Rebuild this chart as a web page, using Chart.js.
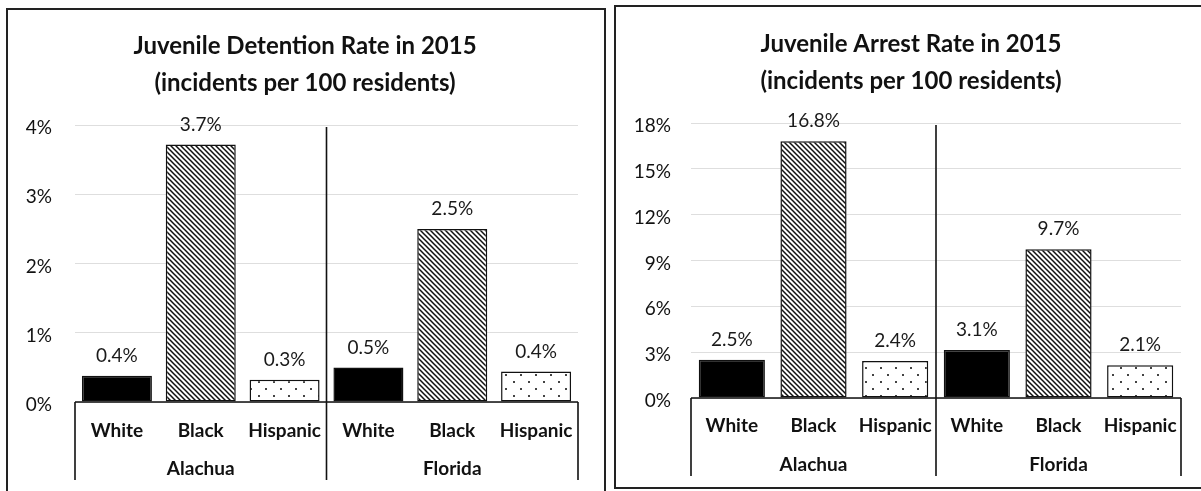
<!DOCTYPE html>
<html><head><meta charset="utf-8">
<script src="https://cdn.jsdelivr.net/npm/chart.js@4.4.1/dist/chart.umd.min.js"></script>
<style>
html,body{margin:0;padding:0;background:#fff;width:1201px;height:491px;overflow:hidden;position:relative;}
.box{position:absolute;border:2px solid #222;box-sizing:border-box;}
#box1{left:6px;top:8px;width:600px;height:500px;}
#box2{left:614px;top:5px;width:600px;height:484px;}
.wrap{position:absolute;top:0;height:491px;}
#w1{left:0;width:600px;}
#w2{left:607px;width:594px;}
canvas{display:block;}
</style></head>
<body>
<div class="box" id="box1"></div>
<div class="box" id="box2"></div>
<div class="wrap" id="w1"><canvas id="c1" width="600" height="491"></canvas></div>
<div class="wrap" id="w2"><canvas id="c2" width="594" height="491"></canvas></div>
<script>
// ---- data ----
const categories = ['White', 'Black', 'Hispanic', 'White', 'Black', 'Hispanic'];
const groups = ['Alachua', 'Florida'];
const detentionTitle = ['Juvenile Detention Rate in 2015', '(incidents per 100 residents)'];
const arrestTitle = ['Juvenile Arrest Rate in 2015', '(incidents per 100 residents)'];
const detentionValues = [0.38, 3.72, 0.32, 0.5, 2.5, 0.44];
const arrestValues = [2.5, 16.8, 2.42, 3.14, 9.74, 2.14];
const detentionTicks = [0, 1, 2, 3, 4];
const arrestTicks = [0, 3, 6, 9, 12, 15, 18];

const FONT = 'Lato, "Open Sans", sans-serif';
const INK = '#111';

function makePatterns(ctx) {
  const h = document.createElement('canvas'); h.width = 5; h.height = 5;
  const g = h.getContext('2d');
  g.fillStyle = '#fff'; g.fillRect(0, 0, 5, 5);
  g.strokeStyle = '#111'; g.lineWidth = 1.5;
  g.beginPath();
  g.moveTo(-1, -1); g.lineTo(6, 6);
  g.moveTo(-1, 4); g.lineTo(1, 6);
  g.moveTo(4, -1); g.lineTo(6, 1);
  g.stroke();
  const d = document.createElement('canvas'); d.width = 15; d.height = 14;
  const e = d.getContext('2d');
  e.fillStyle = '#fff'; e.fillRect(0, 0, 15, 14);
  e.fillStyle = '#444';
  e.fillRect(3, 3, 2, 2);
  e.fillRect(10, 10, 2, 2);
  return {
    solid: '#000',
    hatch: ctx.createPattern(h, 'repeat'),
    dots: ctx.createPattern(d, 'repeat')
  };
}

function decorPlugin(cfg) {
  return {
    id: 'decor',
    afterDatasetsDraw(chart) {
      const ctx = chart.ctx;
      const meta = chart.getDatasetMeta(0);
      const vals = chart.data.datasets[0].data;
      ctx.save();
      ctx.fillStyle = '#1a1a1a';
      ctx.font = '19px ' + FONT;
      ctx.textAlign = 'center';
      ctx.textBaseline = 'middle';
      meta.data.forEach((bar, i) => {
        ctx.fillText(vals[i].toFixed(1) + '%', bar.x, bar.y - 20);
      });
      ctx.restore();
    },
    afterDraw(chart) {
      const ctx = chart.ctx;
      const a = chart.chartArea;
      const xs = chart.scales.x;
      const bottom = a.bottom + 78;
      const mid = (xs.getPixelForValue(2) + xs.getPixelForValue(3)) / 2;
      ctx.save();
      ctx.strokeStyle = INK;
      ctx.lineWidth = 1.6;
      ctx.beginPath();
      ctx.moveTo(a.left, a.bottom); ctx.lineTo(a.right, a.bottom);
      ctx.moveTo(a.left, a.bottom); ctx.lineTo(a.left, bottom);
      ctx.moveTo(a.right, a.bottom); ctx.lineTo(a.right, bottom);
      ctx.moveTo(mid, a.top + 2); ctx.lineTo(mid, bottom);
      ctx.stroke();
      ctx.fillStyle = INK;
      ctx.textAlign = 'center';
      ctx.textBaseline = 'middle';
      ctx.font = 'bold 19px ' + FONT;
      const c1 = (a.left + mid) / 2, c2 = (mid + a.right) / 2;
      ctx.fillText(groups[0], c1, a.bottom + 67);
      ctx.fillText(groups[1], c2, a.bottom + 67);
      // title
      ctx.font = 'bold 24px ' + FONT;
      cfg.title.forEach((t, i) => ctx.fillText(t, cfg.titleX, cfg.titleY + i * 37));
      ctx.restore();
    }
  };
}

function build(id, cfg) {
  const canvas = document.getElementById(id);
  const ctx = canvas.getContext('2d');
  const p = makePatterns(ctx);
  const fills = [p.solid, p.hatch, p.dots, p.solid, p.hatch, p.dots];
  return new Chart(ctx, {
    type: 'bar',
    data: {
      labels: categories,
      datasets: [{
        data: cfg.values,
        backgroundColor: fills,
        borderColor: INK,
        borderWidth: 1.5,
        borderSkipped: false,
        categoryPercentage: 1,
        barPercentage: cfg.barPct
      }]
    },
    options: {
      responsive: false,
      animation: false,
      devicePixelRatio: 1,
      layout: { padding: { left: 0, right: cfg.padR, top: cfg.top, bottom: 0 } },
      plugins: {
        legend: { display: false },
        tooltip: { enabled: false },
        title: { display: false }
      },
      scales: {
        x: {
          grid: { display: false, drawTicks: false },
          border: { display: false },
          ticks: {
            color: INK, padding: cfg.xPad, maxRotation: 0, autoSkip: false,
            font: { family: FONT, size: 19, weight: 'bold' }
          },
          afterFit(s) { s.height = cfg.xHeight; }
        },
        y: {
          min: 0, max: cfg.ticks[cfg.ticks.length - 1],
          afterBuildTicks(s) { s.ticks = cfg.ticks.map(v => ({ value: v })); },
          grid: { color: '#dedede', lineWidth: 1, drawTicks: false },
          border: { display: false },
          ticks: {
            color: INK, padding: cfg.yPad, labelOffset: 3,
            font: { family: FONT, size: 19 },
            callback: v => v + '%'
          },
          afterFit(s) { s.width = cfg.yWidth; }
        }
      }
    },
    plugins: [decorPlugin(cfg)]
  });
}

build('c1', {
  values: detentionValues, ticks: detentionTicks, title: detentionTitle,
  barPct: 0.835, padR: 22, yWidth: 75, yPad: 23, top: 125,
  titleX: 305, titleY: 46, xHeight: 89, xPad: 17
});
build('c2', {
  values: arrestValues, ticks: arrestTicks, title: arrestTitle,
  barPct: 0.81, padR: 20, yWidth: 84, yPad: 20, top: 123,
  titleX: 304, titleY: 44, xHeight: 93, xPad: 16
});
</script>
</body></html>
